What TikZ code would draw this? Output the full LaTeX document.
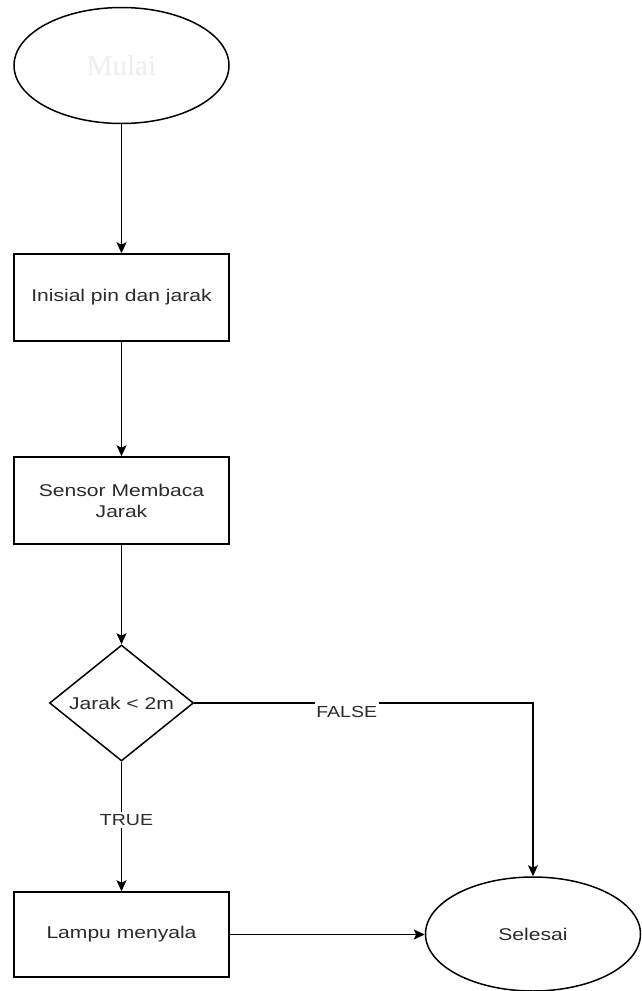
\documentclass[tikz,border=0pt]{standalone}
\usepackage{fontspec}
\usepackage{graphicx}
\setmainfont{Liberation Sans}
\newfontfamily\serifmulai{Liberation Serif}
\usetikzlibrary{shapes.geometric,arrows.meta}
\definecolor{txtgray}{HTML}{2B2B2B}
\definecolor{faint}{HTML}{EEEEEE}
\newcommand{\stx}[1]{\scalebox{1.24}[1]{#1}}
\tikzset{
  base/.style={draw=black, line width=1.5pt, fill=white, text=txtgray,
    font=\fontsize{17}{21}\selectfont, align=center, inner sep=0pt},
  procbox/.style={base, rectangle, minimum width=215pt, minimum height=87pt},
  terminal/.style={base, ellipse, minimum width=215pt, minimum height=116pt},
  decision/.style={base, diamond, aspect=1.24, minimum width=144pt, minimum height=116pt},
  conn/.style={draw=black, line width=1.6pt, -{Stealth[length=11pt,width=10pt,inset=2.5pt]}},
  lbl/.style={fill=white, text=txtgray, font=\fontsize{16}{19}\selectfont,
    text height=11.5pt, text depth=0pt, inner xsep=1.5pt}
}
\begin{document}
\begin{tikzpicture}[x=1pt,y=-1pt]
\useasboundingbox (0,0) rectangle (641,991);
\node[terminal, text=faint, font=\serifmulai\fontsize{29}{32}\selectfont] (mulai) at (121.5,65.5) {Mulai};
\node[procbox] (init) at (121.5,297.5) {\stx{Inisial pin dan jarak}};
\node[procbox] (sensor) at (121.5,500.5) {\stx{Sensor Membaca}\\\stx{Jarak}};
\node[decision] (dec) at (121.5,703) {\stx{Jarak < 2m}};
\node[procbox, minimum height=85pt] (lampu) at (121.5,934.5) {\stx{Lampu menyala}};
\node[terminal, minimum height=114pt] (selesai) at (533,934) {\stx{Selesai}};

\draw[conn] (mulai) -- (init);
\draw[conn] (init) -- (sensor);
\draw[conn] (sensor) -- (dec);
\draw[conn] (dec.south) -- node[lbl, pos=0.45, xshift=5pt, inner ysep=2pt] {\scalebox{1.22}[1]{TRUE}} (lampu.north);
\draw[conn] (dec.east) -| node[lbl, pos=0.225, yshift=-8.5pt, inner ysep=4pt] {\scalebox{1.22}[1]{FALSE}} (selesai.north);
\draw[conn] (lampu.east) -- (selesai.west |- lampu.east);
\end{tikzpicture}
\end{document}
